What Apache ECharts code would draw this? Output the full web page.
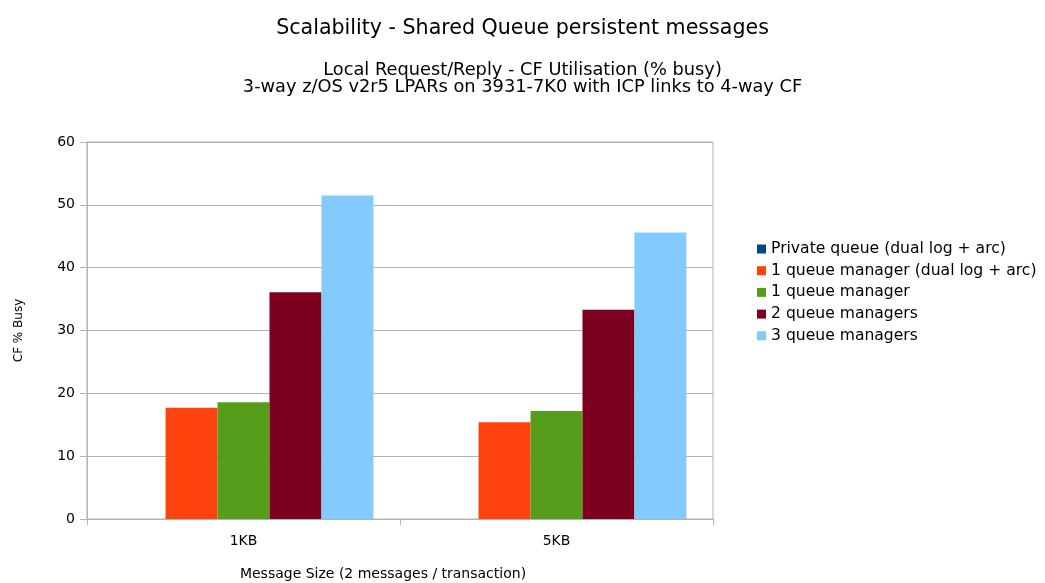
<!DOCTYPE html>
<html>
<head>
<meta charset="utf-8">
<script src="https://cdn.jsdelivr.net/npm/echarts@6/dist/echarts.min.js"></script>
<style>
  html, body { margin: 0; padding: 0; background: #fff; }
  #chart { width: 1045px; height: 583px; }
</style>
</head>
<body>
<div id="chart"></div>
<script>
// message sizes on the x axis
const categories = ['1KB', '5KB']
// CF % busy
const privateQueue = [null, null]
const oneQmDualLog = [17.7, 15.4]
const oneQm = [18.6, 17.2]
const twoQm = [36.1, 33.3]
const threeQm = [51.5, 45.6]

const seriesNames = [
  'Private queue (dual log + arc)',
  '1 queue manager (dual log + arc)',
  '1 queue manager',
  '2 queue managers',
  '3 queue managers'
]
const colors = ['#004586', '#ff420e', '#579d1c', '#7e0021', '#83caff']
const seriesData = [privateQueue, oneQmDualLog, oneQm, twoQm, threeQm]

const font = 'DejaVu Sans, Verdana, sans-serif'
const gridColor = '#b3b3b3'

let chart = echarts.init(document.getElementById('chart'))
let option = {
  animation: false,
  color: colors,
  title: [{
    text: 'Scalability - Shared Queue persistent messages',
    left: 'center',
    top: 13,
    textStyle: { fontFamily: font, fontSize: 20.6, fontWeight: 'normal', color: '#000' }
  }, {
    text: 'Local Request/Reply - CF Utilisation (% busy)\n3-way z/OS v2r5 LPARs on 3931-7K0 with ICP links to 4-way CF',
    left: 'center',
    top: 57,
    textStyle: { fontFamily: font, fontSize: 17.8, fontWeight: 'normal', color: '#000', lineHeight: 17 }
  }],
  legend: {
    orient: 'vertical',
    left: 752,
    top: 236,
    icon: 'rect',
    itemWidth: 9,
    itemHeight: 9,
    itemGap: 5.7,
    data: seriesNames,
    textStyle: { fontFamily: font, fontSize: 15.6, color: '#000', lineHeight: 15 }
  },
  grid: {
    left: 87,
    right: 332,
    top: 142,
    bottom: 64,
    outerBoundsMode: 'none',
    containLabel: false,
    show: true,
    borderColor: gridColor,
    borderWidth: 1
  },
  xAxis: {
    type: 'category',
    data: categories,
    name: 'Message Size (2 messages / transaction)',
    nameLocation: 'middle',
    nameGap: 48,
    nameTextStyle: { fontFamily: font, fontSize: 14, color: '#000', padding: [0, 34, 0, 0] },
    axisLine: { lineStyle: { color: gridColor } },
    axisTick: { show: true, length: 6, lineStyle: { color: gridColor } },
    axisLabel: { fontFamily: font, fontSize: 14, color: '#000', margin: 15 }
  },
  yAxis: {
    type: 'value',
    min: 0,
    max: 60,
    interval: 10,
    name: 'CF % Busy',
    nameLocation: 'middle',
    nameGap: 62,
    nameTextStyle: { fontFamily: font, fontSize: 12, color: '#000' },
    axisLine: { show: true, lineStyle: { color: gridColor } },
    axisTick: { show: true, length: 7, lineStyle: { color: gridColor } },
    axisLabel: { fontFamily: font, fontSize: 14, color: '#000', margin: 12 },
    splitLine: { lineStyle: { color: gridColor } }
  },
  series: seriesNames.map((name, i) => ({
    name,
    type: 'bar',
    data: seriesData[i],
    barGap: '0%',
    barCategoryGap: '17%'
  }))
}
chart.setOption(option)
</script>
</body>
</html>
